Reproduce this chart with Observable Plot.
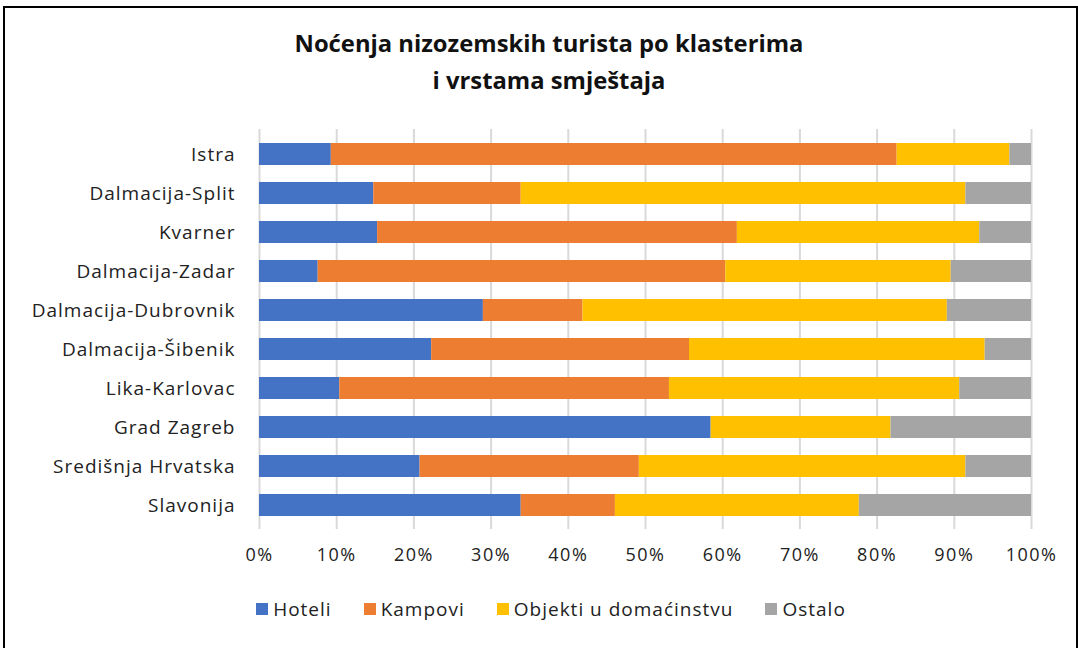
<!DOCTYPE html>
<html>
<head>
<meta charset="utf-8">
<script src="https://cdn.jsdelivr.net/npm/d3@7"></script>
<script src="https://cdn.jsdelivr.net/npm/@observablehq/plot@0.6"></script>
<style>
  html, body { margin: 0; padding: 0; background: #fff; width: 1078px; height: 648px; overflow: hidden; }
  #frame { position: absolute; left: 3px; top: 6px; width: 1071px; height: 700px; border: 2px solid #000; border-bottom: none; }
  #title { position: absolute; left: 0; width: 1098px; top: 25px; text-align: center; font-family: "Open Sans", sans-serif; font-weight: 700; font-size: 23.8px; line-height: 37px; color: #111; }
  #chart { position: absolute; left: 0; top: 120px; }
  #legend { position: absolute; left: 0; width: 1134px; top: 592px; display: flex; justify-content: center; }
  #legend span { margin-right: 32px !important; letter-spacing: 1px; }
  #legend svg { margin-right: 5px !important; }
  #chart g[aria-label="y-axis tick label"] text { letter-spacing: 1px; }
  #chart g[aria-label="x-axis tick label"] text { letter-spacing: 1.5px; }
</style>
</head>
<body>
<div id="frame"></div>
<div id="title">Noćenja nizozemskih turista po klasterima<br>i vrstama smještaja</div>
<div id="chart"></div>
<div id="legend"></div>
<script>
const regions = ["Istra","Dalmacija-Split","Kvarner","Dalmacija-Zadar","Dalmacija-Dubrovnik","Dalmacija-Šibenik","Lika-Karlovac","Grad Zagreb","Središnja Hrvatska","Slavonija"];
const types = ["Hoteli","Kampovi","Objekti u domaćinstvu","Ostalo"];
const colors = ["#4472C4","#ED7D31","#FFC000","#A5A5A5"];
const hoteli  = [9.3, 14.8, 15.3, 7.6, 29.0, 22.3, 10.4, 58.5, 20.8, 33.9];
const kampovi = [73.3, 19.1, 46.6, 52.8, 12.9, 33.4, 42.7, 0.0, 28.4, 12.2];
const objekti = [14.6, 57.6, 31.4, 29.2, 47.2, 38.3, 37.6, 23.3, 42.3, 31.6];
const ostalo  = [2.8, 8.5, 6.7, 10.4, 10.9, 6.0, 9.3, 18.2, 8.5, 22.3];
const xTicks = [0,10,20,30,40,50,60,70,80,90,100];

const series = [hoteli, kampovi, objekti, ostalo];
const data = [];
regions.forEach((r, i) => series.forEach((s, j) => data.push({region: r, type: types[j], value: s[i]})));

const font = '"Open Sans", sans-serif';
const chart = Plot.plot({
  width: 1078,
  height: 460,
  marginLeft: 259,
  marginRight: 47,
  marginTop: 10,
  marginBottom: 52,
  style: {fontFamily: font, color: "#222", background: "transparent"},
  x: {domain: [0, 100], label: null},
  y: {domain: regions, paddingInner: 0.44, paddingOuter: 0.22, label: null},
  color: {domain: types, range: colors},
  marks: [
    Plot.ruleX(xTicks, {stroke: "#d9d9d9", strokeWidth: 2, insetTop: -1, insetBottom: -1}),
    Plot.barX(data, Plot.stackX({x: "value", y: "region", fill: "type", order: types})),
    Plot.axisX({ticks: xTicks, tickSize: 0, tickPadding: 20, tickFormat: d => d + "%", fontSize: 18, fill: "#222"}),
    Plot.axisY({tickSize: 0, tickPadding: 24, fontSize: 19, fill: "#222"})
  ]
});
document.getElementById("chart").appendChild(chart);

const legend = Plot.legend({
  color: {domain: types, range: colors},
  legend: "swatches",
  swatchSize: 12,
  style: {fontFamily: font, fontSize: "19px", color: "#222"}
});
document.getElementById("legend").appendChild(legend);
</script>
</body>
</html>
